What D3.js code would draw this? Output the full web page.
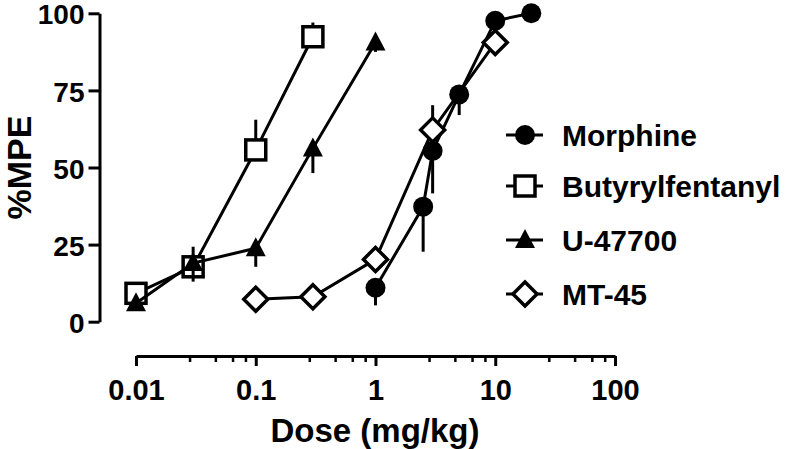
<!DOCTYPE html>
<html>
<head>
<meta charset="utf-8">
<script src="https://cdn.jsdelivr.net/npm/d3@7"></script>
<style>
  html, body { margin: 0; padding: 0; background: #fff; }
  svg { display: block; }
  text { font-family: "Liberation Sans", Arial, sans-serif; font-weight: bold; fill: #000; }
</style>
</head>
<body>
<svg id="chart" width="800" height="449"></svg>
<script>
// ---- data ----
const seriesNames = ["Morphine", "Butyrylfentanyl", "U-47700", "MT-45"];

const morphineDose = [1, 2.5, 3, 5, 10, 20];
const morphineMPE  = [11, 37.3, 55.4, 73.7, 97.6, 100];
const morphineErr  = [-5.7, -14.6, -13.8, -6.7, 0, 0];   // negative = bar drawn below

const butyrylDose = [0.01, 0.03, 0.1, 0.3];
const butyrylMPE  = [9.2, 17.8, 55.7, 92.4];
const butyrylErr  = [0, 6.5, 9.8, 4.6];

const u47700Dose = [0.01, 0.03, 0.1, 0.3, 1];
const u47700MPE  = [6.0, 19, 23.8, 56.2, 90.5];
const u47700Err  = [0, -6, -6, -8, -3];

const mt45Dose = [0.1, 0.3, 1, 3, 10];
const mt45MPE  = [7.3, 8.1, 20.2, 62.2, 90.5];
const mt45Err  = [0, 0, 0, 8, 0];

const xTickValues = [0.01, 0.1, 1, 10, 100];
const xTickLabels = ["0.01", "0.1", "1", "10", "100"];
const xMinorMultipliers = [2.8, 4.6, 6.4, 8.2];
const yTickValues = [0, 25, 50, 75, 100];

const xTitle = "Dose (mg/kg)";
const yTitle = "%MPE";

// ---- build ----
const series = [
  { name: seriesNames[0], dose: morphineDose, mpe: morphineMPE, err: morphineErr, symbol: "circle" },
  { name: seriesNames[1], dose: butyrylDose, mpe: butyrylMPE, err: butyrylErr, symbol: "square" },
  { name: seriesNames[2], dose: u47700Dose, mpe: u47700MPE, err: u47700Err, symbol: "triangle" },
  { name: seriesNames[3], dose: mt45Dose, mpe: mt45MPE, err: mt45Err, symbol: "diamond" }
];

const svg = d3.select("#chart");
const x = d3.scaleLog().domain([0.01, 100]).range([136, 615]);
const y = d3.scaleLinear().domain([0, 100]).range([321.7, 13.3]);

const LW = 3;

// y axis
const yAxis = svg.append("g")
  .attr("transform", "translate(99.5,0)")
  .call(d3.axisLeft(y).tickValues(yTickValues).tickSize(11).tickSizeOuter(0).tickPadding(4));
yAxis.select(".domain").attr("stroke", "#000").attr("stroke-width", LW);
yAxis.selectAll(".tick line").attr("stroke", "#000").attr("stroke-width", LW);
yAxis.selectAll(".tick text").attr("font-size", 28).attr("font-family", "Liberation Sans, Arial, sans-serif")
  .attr("font-weight", "bold").attr("fill", "#000").attr("dy", "0.38em");

// x axis
const minorTicks = [];
xTickValues.slice(0, -1).forEach(d => xMinorMultipliers.forEach(m => minorTicks.push(d * m)));
const xAxisY = 356;
const xAxis = svg.append("g")
  .attr("transform", `translate(0,${xAxisY})`)
  .call(d3.axisBottom(x).tickValues(xTickValues).tickFormat((d, i) => xTickLabels[i])
    .tickSize(10).tickSizeOuter(0).tickPadding(13));
xAxis.select(".domain").attr("stroke", "#000").attr("stroke-width", LW);
xAxis.selectAll(".tick line").attr("stroke", "#000").attr("stroke-width", LW);
xAxis.selectAll(".tick text").attr("font-size", 29).attr("font-family", "Liberation Sans, Arial, sans-serif")
  .attr("font-weight", "bold").attr("fill", "#000");
const xMinor = svg.append("g")
  .attr("transform", `translate(0,${xAxisY})`)
  .call(d3.axisBottom(x).tickValues(minorTicks).tickFormat("").tickSize(6).tickSizeOuter(0));
xMinor.select(".domain").remove();
xMinor.selectAll(".tick line").attr("stroke", "#000").attr("stroke-width", 2.5);

// titles
svg.append("text").attr("x", 375).attr("y", 442).attr("text-anchor", "middle")
  .attr("font-size", 33).text(xTitle);
svg.append("text").attr("transform", `translate(31,${y(50)}) rotate(-90)`).attr("text-anchor", "middle")
  .attr("font-size", 34).text(yTitle);

// symbols
function drawSymbol(g, type, cx, cy) {
  if (type === "circle") {
    g.append("circle").attr("cx", cx).attr("cy", cy).attr("r", 10).attr("fill", "#000");
  } else if (type === "square") {
    g.append("rect").attr("x", cx - 10).attr("y", cy - 10).attr("width", 20).attr("height", 20)
      .attr("fill", "#fff").attr("stroke", "#000").attr("stroke-width", 3.5);
  } else if (type === "triangle") {
    g.append("path").attr("d", `M${cx},${cy - 11} L${cx + 10},${cy + 8} L${cx - 10},${cy + 8} Z`)
      .attr("fill", "#000");
  } else if (type === "diamond") {
    g.append("path").attr("d", `M${cx},${cy - 12} L${cx + 12},${cy} L${cx},${cy + 12} L${cx - 12},${cy} Z`)
      .attr("fill", "#fff").attr("stroke", "#000").attr("stroke-width", 3.5).attr("stroke-linejoin", "miter");
  }
}

const line = d3.line().x(d => x(d.dose)).y(d => y(d.mpe));
const plot = svg.append("g");
series.forEach(s => {
  const pts = s.dose.map((d, i) => ({ dose: d, mpe: s.mpe[i], err: s.err[i] }));
  const g = plot.append("g");
  g.append("path").datum(pts).attr("d", line).attr("fill", "none")
    .attr("stroke", "#000").attr("stroke-width", LW);
  g.selectAll("line.err").data(pts.filter(p => p.err !== 0)).enter().append("line")
    .attr("x1", p => x(p.dose)).attr("x2", p => x(p.dose))
    .attr("y1", p => y(p.mpe)).attr("y2", p => y(p.mpe + p.err))
    .attr("stroke", "#000").attr("stroke-width", LW);
  pts.forEach(p => drawSymbol(g, s.symbol, x(p.dose), y(p.mpe)));
});

// legend
const legendRows = [135, 186, 240, 294];
const legend = svg.append("g");
series.forEach((s, i) => {
  const cy = legendRows[i];
  const g = legend.append("g");
  g.append("line").attr("x1", 506).attr("x2", 543).attr("y1", cy).attr("y2", cy)
    .attr("stroke", "#000").attr("stroke-width", LW);
  drawSymbol(g, s.symbol, 525, cy);
  g.append("text").attr("x", 562).attr("y", cy + 11).attr("font-size", 30).text(s.name);
});
</script>
</body>
</html>
